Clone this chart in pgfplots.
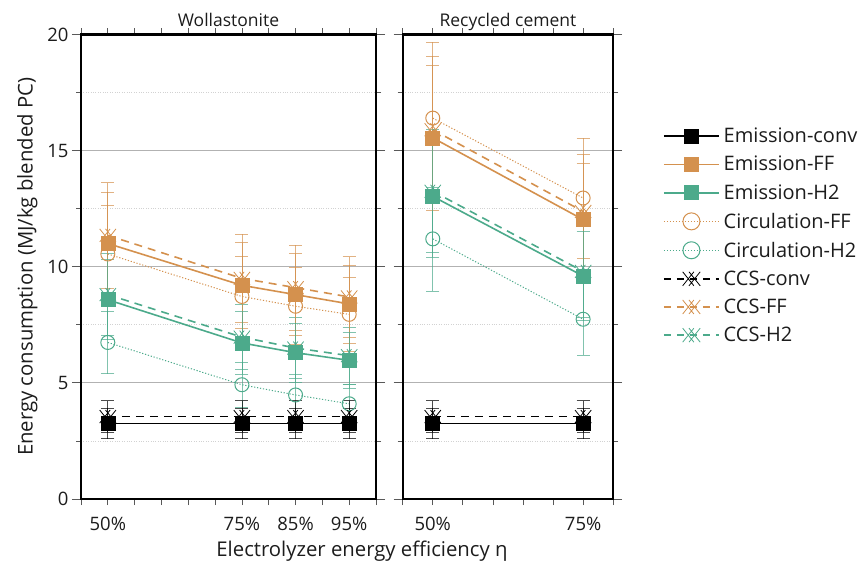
\documentclass[border=0pt]{standalone}
\usepackage{pgfplots}
\pgfplotsset{compat=1.18}
\usepackage{fontspec}
\setmainfont{Open Sans}
\usetikzlibrary{plotmarks}

\definecolor{ffcol}{RGB}{212,145,78}
\definecolor{htcol}{RGB}{76,170,139}
\definecolor{gridmaj}{RGB}{178,178,178}
\definecolor{gridmin}{RGB}{210,210,210}
\definecolor{txt}{RGB}{28,28,28}

% double cross used for the CCS series
\pgfdeclareplotmark{dx}{%
  \pgfpathmoveto{\pgfpoint{-1.25\pgfplotmarksize}{-\pgfplotmarksize}}%
  \pgfpathlineto{\pgfpoint{0.35\pgfplotmarksize}{\pgfplotmarksize}}%
  \pgfpathmoveto{\pgfpoint{-1.25\pgfplotmarksize}{\pgfplotmarksize}}%
  \pgfpathlineto{\pgfpoint{0.35\pgfplotmarksize}{-\pgfplotmarksize}}%
  \pgfpathmoveto{\pgfpoint{-0.35\pgfplotmarksize}{-\pgfplotmarksize}}%
  \pgfpathlineto{\pgfpoint{1.25\pgfplotmarksize}{\pgfplotmarksize}}%
  \pgfpathmoveto{\pgfpoint{-0.35\pgfplotmarksize}{\pgfplotmarksize}}%
  \pgfpathlineto{\pgfpoint{1.25\pgfplotmarksize}{-\pgfplotmarksize}}%
  \pgfusepathqstroke
}

\pgfplotsset{
  /pgf/number format/assume math mode=true,
  emission/.style={solid, line width=1.6pt, mark=square*, mark size=7pt,
    mark options={solid, line width=0.6pt}},
  circulation/.style={dash pattern=on 1.2pt off 1.8pt, line width=1pt, mark=o, mark size=7pt,
    mark options={solid, line width=1pt}},
  ccs/.style={dash pattern=on 8pt off 6pt, line width=1.6pt, mark=dx, mark size=6.5pt,
    mark options={solid, line width=0.8pt}},
  eb/.style={error bars/y dir=both, error bars/y explicit,
    error bars/error bar style={solid, line width=0.7pt, draw opacity=0.7},
    error bars/error mark options={rotate=90, mark size=6.5pt, solid, line width=0.7pt, draw opacity=0.7}},
  panel/.style={
    scale only axis, anchor=south west, height=464.5pt,
    ymin=0, ymax=20, ytick={0,5,...,20}, minor y tick num=1,
    ymajorgrids, yminorgrids,
    major grid style={gridmaj, line width=0.8pt},
    minor grid style={gridmin, dotted, line width=0.8pt},
    axis line style={line width=2.2pt},
    tick align=outside, tick style={black!65, line width=0.8pt},
    major tick length=9pt, minor tick length=5pt,
    xtick style={/pgfplots/major tick length=6pt},
    xmin=45,
    tick label style={font=\fontsize{18.5}{22}\selectfont, text=txt},
    xticklabel style={yshift=-5.5pt},
    title style={font=\fontsize{17.5}{21}\selectfont, text=txt, anchor=base, yshift=2pt},
    label style={font=\fontsize{20.3}{24}\selectfont, text=txt},
    legend image code/.code={\draw[mark repeat=2,mark phase=2]
      plot coordinates {(0pt,0pt) (27.5pt,0pt) (55pt,0pt)};},
  },
}

\begin{document}
\begin{tikzpicture}
\useasboundingbox (0,0) rectangle (858pt,563pt);

% ---------------- Wollastonite ----------------
\begin{axis}[panel, at={(81pt,64pt)}, width=295pt, xmax=100,
  xtick={45,50,...,100},
  xticklabels={,50\%,,,,,75\%,,85\%,,95\%,},
  title={Wollastonite},
  ylabel={Energy consumption (MJ/kg blended PC)},
  ylabel style={at={(rel axis cs:-0.182,0.5)}, anchor=center},
]
\addplot[circulation, ffcol, eb] table[y error=e] {
x y e
50 10.55 2.11
75 8.72 1.74
85 8.30 1.66
95 7.95 1.59
};
\addplot[circulation, htcol, eb] table[y error=e] {
x y e
50 6.74 1.35
75 4.92 0.98
85 4.48 0.90
95 4.10 0.82
};
\addplot[ccs, black, eb] table[y error=e] {
x y e
50 3.55 0.68
75 3.55 0.68
85 3.55 0.68
95 3.55 0.68
};
\addplot[ccs, ffcol, eb] table[y error=e] {
x y e
50 11.35 2.27
75 9.50 1.90
85 9.10 1.82
95 8.70 1.74
};
\addplot[ccs, htcol, eb] table[y error=e] {
x y e
50 8.80 1.76
75 6.97 1.39
85 6.50 1.30
95 6.17 1.23
};
\addplot[emission, black, eb] table[y error=e] {
x y e
50 3.25 0.65
75 3.25 0.65
85 3.25 0.65
95 3.25 0.65
};
\addplot[emission, ffcol, eb] table[y error=e] {
x y e
50 11.00 2.20
75 9.20 1.84
85 8.80 1.76
95 8.40 1.68
};
\addplot[emission, htcol, eb] table[y error=e] {
x y e
50 8.58 1.72
75 6.72 1.34
85 6.30 1.26
95 5.97 1.19
};
\end{axis}

% ---------------- Recycled cement ----------------
\begin{axis}[panel, at={(402.7pt,64pt)}, width=210.5pt, xmax=80,
  xtick={45,50,...,80},
  xticklabels={,50\%,,,,,75\%,},
  yticklabels={},
  title={Recycled cement},
  legend style={at={(1.222,0.808)}, anchor=north west, draw=none, fill=none,
    font=\fontsize{20}{24}\selectfont, text=txt, row sep=8.2pt,
    /tikz/every odd column/.append style={column sep=2pt}},
  legend cell align=left,
]
\addlegendimage{emission, black}\addlegendentry{Emission-conv}
\addlegendimage{emission, ffcol}\addlegendentry{Emission-FF}
\addlegendimage{emission, htcol}\addlegendentry{Emission-H2}
\addlegendimage{circulation, ffcol, mark size=8.5pt}\addlegendentry{Circulation-FF}
\addlegendimage{circulation, htcol, mark size=8.5pt}\addlegendentry{Circulation-H2}
\addlegendimage{ccs, black, dash pattern=on 7pt off 6pt, mark size=7pt}\addlegendentry{CCS-conv}
\addlegendimage{ccs, ffcol, dash pattern=on 7pt off 6pt, mark size=7pt}\addlegendentry{CCS-FF}
\addlegendimage{ccs, htcol, dash pattern=on 7pt off 6pt, mark size=7pt}\addlegendentry{CCS-H2}

\addplot[forget plot, circulation, ffcol, eb] table[y error=e] {
x y e
50 16.40 3.28
75 12.96 2.59
};
\addplot[forget plot, circulation, htcol, eb] table[y error=e] {
x y e
50 11.20 2.24
75 7.74 1.55
};
\addplot[forget plot, ccs, black, eb] table[y error=e] {
x y e
50 3.55 0.68
75 3.55 0.68
};
\addplot[forget plot, ccs, ffcol, eb] table[y error=e] {
x y e
50 15.90 3.18
75 12.38 2.48
};
\addplot[forget plot, ccs, htcol, eb] table[y error=e] {
x y e
50 13.25 2.65
75 9.80 1.96
};
\addplot[forget plot, emission, black, eb] table[y error=e] {
x y e
50 3.25 0.65
75 3.25 0.65
};
\addplot[forget plot, emission, ffcol, eb] table[y error=e] {
x y e
50 15.55 3.11
75 12.03 2.41
};
\addplot[forget plot, emission, htcol, eb] table[y error=e] {
x y e
50 13.03 2.61
75 9.60 1.92
};
\end{axis}

\node[font=\fontsize{20.3}{24}\selectfont, text=txt] at (362pt,12pt) {Electrolyzer energy efficiency η};
\end{tikzpicture}
\end{document}
